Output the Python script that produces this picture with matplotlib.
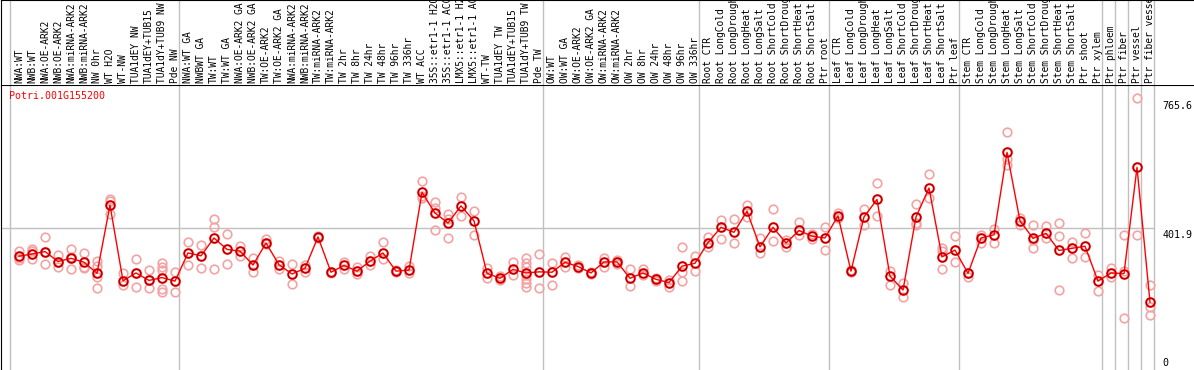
import numpy as np
import matplotlib
matplotlib.use("Agg")
import matplotlib.pyplot as plt
import matplotlib.transforms as mtransforms

gene = "Potri.001G155200"

samples = [
    "NWA:WT", "NWB:WT", "NWA:OE-ARK2", "NWB:OE-ARK2", "NWA:miRNA-ARK2", "NWB:miRNA-ARK2",
    "NW 0hr", "WT H2O", "WT-NW", "TUA1dEY NW", "TUA1dEY+TUB15", "TUA1dY+TUB9 NW", "Pde NW",
    "NWA:WT GA", "NWBWT GA", "TW:WT", "TW:WT GA", "NWA:OE-ARK2 GA", "NWB:OE-ARK2 GA",
    "TW:OE-ARK2", "TW:OE-ARK2 GA", "NWA:miRNA-ARK2", "NWB:miRNA-ARK2", "TW:miRNA-ARK2",
    "TW:miRNA-ARK2", "TW 2hr", "TW 8hr", "TW 24hr", "TW 48hr", "TW 96hr", "TW 336hr",
    "WT ACC", "35S::etr1-1 H2O", "35S::etr1-1 ACC", "LMX5::etr1-1 H2O", "LMX5::etr1-1 ACC",
    "WT-TW", "TUA1dEY TW", "TUA1dEY+TUB15", "TUA1dY+TUB9 TW", "Pde TW",
    "OW:WT", "OW:WT GA", "OW:OE-ARK2", "OW:OE-ARK2 GA", "OW:miRNA-ARK2", "OW:miRNA-ARK2",
    "OW 2hr", "OW 8hr", "OW 24hr", "OW 48hr", "OW 96hr", "OW 336hr",
    "Root CTR", "Root LongCold", "Root LongDrought", "Root LongHeat", "Root LongSalt",
    "Root ShortCold", "Root ShortDrought", "Root ShortHeat", "Root ShortSalt", "Ptr root",
    "Leaf CTR", "Leaf LongCold", "Leaf LongDrought", "Leaf LongHeat", "Leaf LongSalt",
    "Leaf ShortCold", "Leaf ShortDrought", "Leaf ShortHeat", "Leaf ShortSalt", "Ptr leaf",
    "Stem CTR", "Stem LongCold", "Stem LongDrought", "Stem LongHeat", "Stem LongSalt",
    "Stem ShortCold", "Stem ShortDrought", "Stem ShortHeat", "Stem ShortSalt", "Ptr shoot",
    "Ptr xylem", "Ptr phloem", "Ptr fiber", "Ptr vessel", "Ptr fiber vessel",
]

# group sizes (vertical separators)
group_sizes = [13, 28, 12, 10, 10, 11, 1, 1, 1, 1]

means = [
    322, 328, 335, 307, 316, 305, 274, 465, 253, 275, 254, 262, 252,
    331, 323, 373, 341, 336, 297, 359, 298, 272, 288, 376, 277, 296, 280, 308, 331, 280, 283,
    501, 443, 415, 463, 421, 274, 260, 285, 275, 278,
    277, 305, 293, 275, 306, 306, 260, 275, 257, 248, 294, 302,
    360, 403, 389, 448, 348, 403, 359, 394, 378, 373,
    435, 280, 432, 481, 266, 227, 432, 513, 320, 339,
    274, 373, 382, 613, 421, 372, 386, 338, 344, 350, 252,
    275, 273, 571, 193,
]

replicates = [
    [336, 316, 311], [341, 336, 313], [376, 335, 301], [326, 307, 291], [342, 320, 316, 285],
    [331, 293, 288], [308, 295, 264, 232], [481, 477, 439], [274, 241], [314, 275, 235],
    [283, 254, 232], [302, 293, 283, 229, 222], [278, 222],
    [361, 297], [353, 288], [425, 403, 285], [384, 301], [350, 322], [316, 278], [369, 355],
    [309, 285], [301, 244], [297, 278], [378, 373], [279, 275], [306, 286], [291, 272],
    [322, 297], [361, 313], [282, 278], [295, 275], [533, 490, 484], [474, 456, 394],
    [440, 427, 373], [489, 435], [450, 381], [288, 260], [267, 255], [307, 268],
    [316, 302, 293, 268, 257, 247, 236], [328, 232],
    [302, 241], [320, 291], [297, 290], [279, 272], [318, 291], [299, 310], [285, 238],
    [286, 268], [260, 251], [255, 235], [347, 278, 253], [322, 281],
    [377, 349], [423, 370], [425, 360], [465, 433], [372, 330], [454, 364], [347, 367],
    [419, 381], [369, 384], [403, 338],
    [443, 430], [278, 283], [454, 410], [526, 436], [280, 240], [248, 207], [467, 414, 410],
    [552, 484], [344, 336, 285], [378, 307],
    [276, 264], [381, 358], [398, 360], [669, 594, 578], [428, 409], [409, 368, 344],
    [408, 372], [414, 378, 227], [363, 316], [386, 320], [269, 224],
    [288, 263], [380, 280, 150], [765.6, 380], [240, 180, 156],
]

yticks = [0, 401.9, 765.6]

W, H = 1194, 370
fig = plt.figure(figsize=(W / 100, H / 100), dpi=100)
mono = "DejaVu Sans Mono"
grid_c = "#c0c0c0"

xlim = ((1 - 10) / 13, (W - 10) / 13)
ylim = (1 / 0.3566, 286 / 0.3566)

ax = fig.add_axes([1 / W, 0, (W - 1) / W, 285 / H])
lab = fig.add_axes([1 / W, 285 / H, (W - 1) / W, 85 / H], sharex=ax)
ax.set_xlim(*xlim)
ax.set_ylim(*ylim)

for a in (ax, lab):
    for s in a.spines.values():
        s.set_visible(False)
    a.spines["left"].set_visible(True)
    a.spines["top"].set_visible(True)
    a.spines["left"].set_color("black")
    a.spines["top"].set_color("black")
    a.set_xticks([])
    a.set_yticks([])

bounds = np.concatenate([[0], np.cumsum(group_sizes)])
for b in bounds:
    ax.axvline(b, color=grid_c, lw=1, zorder=0)
    lab.axvline(b, color=grid_c, lw=1, zorder=0)
ax.hlines(401.9, xlim[0], bounds[-1], color=grid_c, lw=1, zorder=0)

x = np.arange(len(samples)) + 9 / 13

# sample labels (long ones run off the top edge, as in the original)
trans = mtransforms.blended_transform_factory(lab.transData, lab.transAxes)
for xi, name in zip(x, samples):
    lab.text(xi, 2 / 85, name, rotation=90, ha="center", va="bottom",
             fontfamily=mono, fontsize=6.9, transform=trans)

# replicates
rx = np.concatenate([[xi] * len(r) for xi, r in zip(x, replicates)])
ry = np.concatenate(replicates)
ax.plot(rx, ry, "o", ls="none", ms=6.2, mfc="none", mec="#f2a4a4", mew=1.2, zorder=2)

# means
ax.plot(x, means, "-", color="#ff0000", lw=1, zorder=3)
ax.plot(x, means, "o", ls="none", ms=6.2, mfc="none", mec="#ff0000", mew=1.5, zorder=4)
ax.plot(x, means, "o", ls="none", ms=6.2, mfc="none", mec="#700000", mew=0.4, zorder=5)

ax.annotate(gene, xy=(0, 1), xycoords=("data", "axes fraction"), xytext=(-1, -4),
            textcoords="offset points", ha="left", va="top", color="#ff0000",
            fontfamily=mono, fontsize=7.2)

for v in yticks:
    va = "bottom" if v == 0 else "top"
    dy = 2 if v == 0 else -2
    ax.annotate(f"{v:g}", xy=(bounds[-1], v), xytext=(6, dy), textcoords="offset points",
                ha="left", va=va, fontfamily=mono, fontsize=7.2, annotation_clip=False)

fig.savefig("out.png", dpi=100)
